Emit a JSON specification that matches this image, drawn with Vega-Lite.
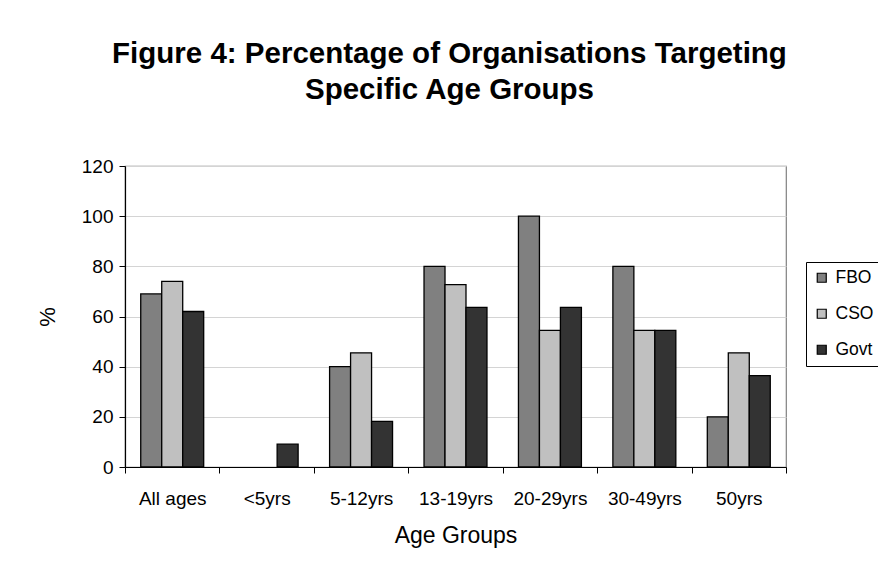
{
  "$schema": "https://vega.github.io/schema/vega-lite/v6.json",
  "width": 661,
  "height": 301,
  "autosize": "none",
  "padding": {"left": 125, "top": 166, "right": 92, "bottom": 109},
  "background": "white",
  "title": {
    "text": ["Figure 4: Percentage of Organisations Targeting", "Specific Age Groups"],
    "font": "Liberation Sans",
    "fontSize": 29.5,
    "fontWeight": "bold",
    "color": "black",
    "lineHeight": 36,
    "anchor": "middle",
    "offset": 52,
    "dx": -6
  },
  "data": {
    "values": [
      {"age": "All ages", "org": "FBO", "pct": 69},
      {"age": "All ages", "org": "CSO", "pct": 74},
      {"age": "All ages", "org": "Govt", "pct": 62},
      {"age": "<5yrs", "org": "FBO", "pct": 0},
      {"age": "<5yrs", "org": "CSO", "pct": 0},
      {"age": "<5yrs", "org": "Govt", "pct": 9.1},
      {"age": "5-12yrs", "org": "FBO", "pct": 40},
      {"age": "5-12yrs", "org": "CSO", "pct": 45.5},
      {"age": "5-12yrs", "org": "Govt", "pct": 18.2},
      {"age": "13-19yrs", "org": "FBO", "pct": 80},
      {"age": "13-19yrs", "org": "CSO", "pct": 72.7},
      {"age": "13-19yrs", "org": "Govt", "pct": 63.6},
      {"age": "20-29yrs", "org": "FBO", "pct": 100},
      {"age": "20-29yrs", "org": "CSO", "pct": 54.5},
      {"age": "20-29yrs", "org": "Govt", "pct": 63.6},
      {"age": "30-49yrs", "org": "FBO", "pct": 80},
      {"age": "30-49yrs", "org": "CSO", "pct": 54.5},
      {"age": "30-49yrs", "org": "Govt", "pct": 54.5},
      {"age": "50yrs", "org": "FBO", "pct": 20},
      {"age": "50yrs", "org": "CSO", "pct": 45.5},
      {"age": "50yrs", "org": "Govt", "pct": 36.4}
    ]
  },
  "mark": {"type": "bar", "stroke": "black", "strokeWidth": 1.3},
  "encoding": {
    "x": {
      "field": "age",
      "type": "nominal",
      "sort": ["All ages", "<5yrs", "5-12yrs", "13-19yrs", "20-29yrs", "30-49yrs", "50yrs"],
      "scale": {"paddingInner": 0, "paddingOuter": 0},
      "axis": {
        "title": "Age Groups",
        "titleFont": "Liberation Sans",
        "titleFontSize": 23,
        "titleFontWeight": "normal",
        "titleColor": "black",
        "titlePadding": 16,
        "labelFont": "Liberation Sans",
        "labelFontSize": 19,
        "labelColor": "black",
        "labelAngle": 0,
        "labelPadding": 16,
        "tickBand": "extent",
        "tickColor": "black",
        "tickSize": 6,
        "domainColor": "black",
        "domainWidth": 1.2,
        "grid": false
      }
    },
    "xOffset": {
      "field": "org",
      "type": "nominal",
      "sort": ["FBO", "CSO", "Govt"],
      "scale": {"paddingInner": 0, "paddingOuter": 0.75}
    },
    "y": {
      "field": "pct",
      "type": "quantitative",
      "scale": {"domain": [0, 120], "nice": false},
      "axis": {
        "title": "%",
        "titleFont": "Liberation Sans",
        "titleFontSize": 22,
        "titleFontWeight": "normal",
        "titleColor": "black",
        "titlePadding": 22,
        "values": [0, 20, 40, 60, 80, 100, 120],
        "labelFont": "Liberation Sans",
        "labelFontSize": 19,
        "labelColor": "black",
        "labelPadding": 6,
        "tickColor": "black",
        "tickSize": 6,
        "domainColor": "black",
        "domainWidth": 1.2,
        "grid": true,
        "gridColor": "#d4d4d4",
        "gridWidth": 1
      }
    },
    "strokeOpacity": {
      "condition": {"test": "datum.pct === 0", "value": 0},
      "value": 1
    },
    "fill": {
      "field": "org",
      "type": "nominal",
      "sort": ["FBO", "CSO", "Govt"],
      "scale": {"domain": ["FBO", "CSO", "Govt"], "range": ["#808080", "#c0c0c0", "#333333"]},
      "legend": {
        "title": null,
        "orient": "none",
        "legendX": 681,
        "legendY": 96,
        "direction": "vertical",
        "strokeColor": "black",
        "fillColor": "white",
        "padding": 7,
        "symbolType": "square",
        "symbolSize": 81,
        "symbolStrokeColor": "black",
        "symbolStrokeWidth": 1.2,
        "symbolOpacity": 1,
        "labelFont": "Liberation Sans",
        "labelFontSize": 17.5,
        "labelColor": "black",
        "labelOffset": 5,
        "rowPadding": 17
      }
    }
  },
  "config": {
    "view": {"stroke": "#808080", "strokeWidth": 1.2},
    "axis": {"labelFont": "Liberation Sans"}
  }
}
